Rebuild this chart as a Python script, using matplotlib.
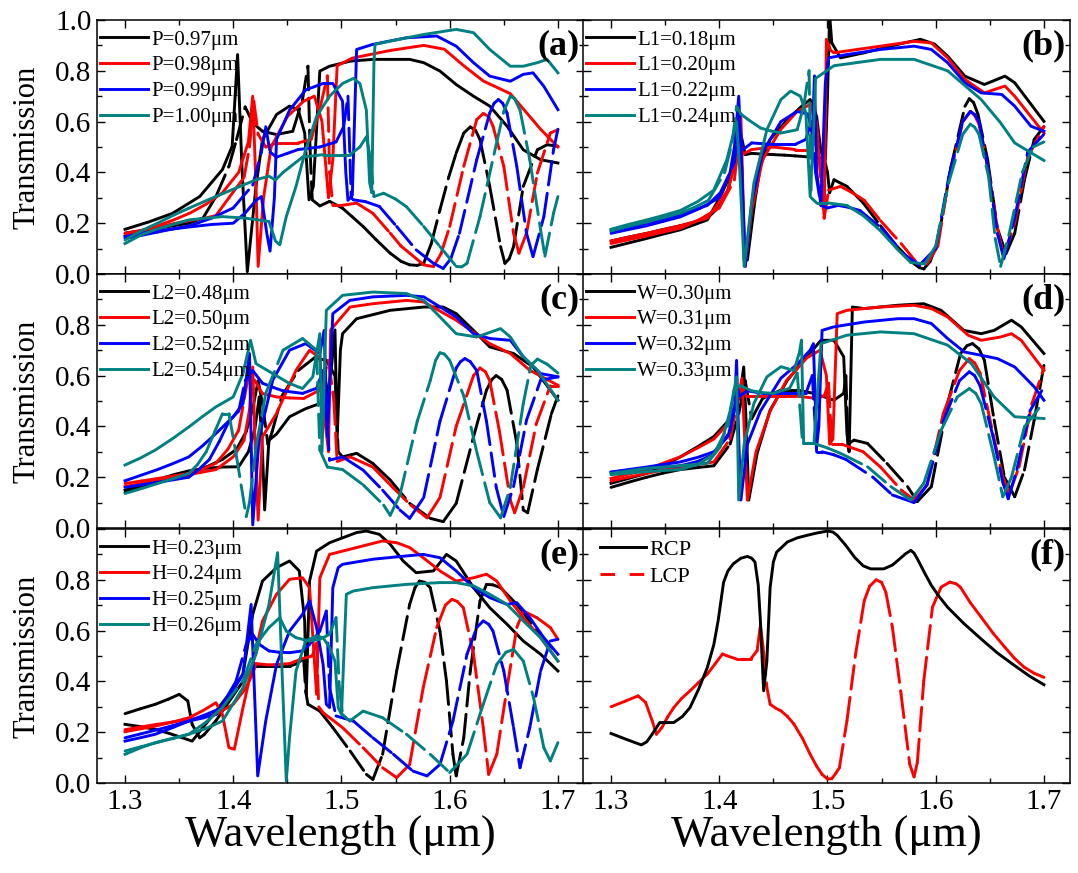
import numpy as np
import matplotlib
matplotlib.use('Agg')
import matplotlib.pyplot as plt
from matplotlib.collections import LineCollection
from matplotlib.lines import Line2D
from matplotlib.ticker import MultipleLocator, FuncFormatter

plt.rcParams['font.family'] = ['Liberation Serif', 'DejaVu Serif']
plt.rcParams['lines.scale_dashes'] = False

# (wavelength um, transmission)
# ---- panel (a): P ----
A_K_RCP = [(1.300,0.176),(1.322,0.205),(1.344,0.239),(1.369,0.305),(1.390,0.411),(1.399,0.503),(1.404,0.864),(1.408,0.424),(1.413,0.009),(1.421,0.345),(1.427,0.529),(1.440,0.628),(1.452,0.661),(1.460,0.647),(1.466,0.555),(1.470,0.292),(1.474,0.345),(1.480,0.799),(1.489,0.818),(1.508,0.838),(1.529,0.845),(1.563,0.845),(1.576,0.832),(1.591,0.799),(1.606,0.746),(1.622,0.700),(1.637,0.661),(1.653,0.582),(1.668,0.489),(1.684,0.450),(1.700,0.437)]
A_K_LCP = [(1.300,0.161),(1.315,0.170),(1.330,0.180),(1.345,0.190),(1.359,0.200),(1.372,0.220),(1.384,0.305),(1.396,0.424),(1.403,0.529),(1.411,0.658),(1.418,0.595),(1.427,0.562),(1.440,0.549),(1.455,0.562),(1.464,0.687),(1.469,0.818),(1.471,0.489),(1.473,0.292),(1.480,0.268),(1.489,0.286),(1.501,0.259),(1.510,0.225),(1.520,0.187),(1.532,0.135),(1.545,0.082),(1.555,0.050),(1.563,0.036),(1.570,0.034),(1.576,0.042),(1.583,0.120),(1.591,0.253),(1.599,0.380),(1.606,0.476),(1.613,0.555),(1.619,0.579),(1.624,0.565),(1.628,0.529),(1.637,0.345),(1.647,0.108),(1.651,0.042),(1.655,0.060),(1.659,0.108),(1.668,0.345),(1.681,0.489),(1.690,0.509),(1.700,0.503)]
A_R_RCP = [(1.300,0.150),(1.315,0.170),(1.330,0.190),(1.345,0.213),(1.360,0.240),(1.375,0.275),(1.390,0.320),(1.405,0.400),(1.414,0.520),(1.418,0.700),(1.421,0.350),(1.423,0.030),(1.428,0.300),(1.435,0.500),(1.450,0.620),(1.465,0.680),(1.475,0.700),(1.482,0.600),(1.488,0.300),(1.492,0.450),(1.496,0.820),(1.510,0.850),(1.545,0.880),(1.576,0.900),(1.595,0.885),(1.613,0.820),(1.631,0.760),(1.656,0.710),(1.668,0.650),(1.684,0.570),(1.700,0.500)]
A_R_LCP = [(1.300,0.160),(1.315,0.172),(1.330,0.185),(1.345,0.198),(1.359,0.210),(1.372,0.218),(1.384,0.230),(1.396,0.300),(1.410,0.380),(1.415,0.500),(1.419,0.680),(1.423,0.550),(1.430,0.500),(1.440,0.516),(1.450,0.516),(1.460,0.516),(1.472,0.530),(1.480,0.650),(1.487,0.780),(1.489,0.400),(1.492,0.270),(1.500,0.270),(1.514,0.279),(1.529,0.239),(1.545,0.161),(1.555,0.110),(1.563,0.082),(1.576,0.036),(1.585,0.029),(1.592,0.080),(1.600,0.187),(1.613,0.424),(1.625,0.608),(1.631,0.632),(1.636,0.620),(1.640,0.582),(1.650,0.424),(1.659,0.161),(1.664,0.082),(1.671,0.161),(1.681,0.397),(1.693,0.555),(1.700,0.568)]
A_B_RCP = [(1.300,0.147),(1.315,0.160),(1.330,0.170),(1.359,0.185),(1.380,0.195),(1.400,0.200),(1.411,0.240),(1.421,0.290),(1.426,0.305),(1.431,0.160),(1.434,0.090),(1.438,0.300),(1.440,0.530),(1.452,0.645),(1.467,0.725),(1.483,0.750),(1.492,0.750),(1.501,0.680),(1.504,0.400),(1.506,0.290),(1.510,0.310),(1.514,0.884),(1.529,0.904),(1.560,0.930),(1.588,0.937),(1.606,0.897),(1.622,0.832),(1.637,0.779),(1.656,0.759),(1.668,0.786),(1.677,0.792),(1.687,0.739),(1.700,0.647)]
A_B_LCP = [(1.300,0.140),(1.315,0.152),(1.330,0.165),(1.345,0.178),(1.360,0.190),(1.380,0.220),(1.400,0.260),(1.418,0.350),(1.426,0.480),(1.430,0.580),(1.434,0.480),(1.440,0.460),(1.450,0.475),(1.460,0.490),(1.480,0.500),(1.495,0.520),(1.502,0.580),(1.506,0.700),(1.509,0.300),(1.511,0.292),(1.522,0.285),(1.535,0.266),(1.551,0.187),(1.569,0.095),(1.585,0.042),(1.594,0.022),(1.601,0.060),(1.609,0.160),(1.625,0.450),(1.637,0.634),(1.641,0.672),(1.645,0.687),(1.649,0.672),(1.653,0.634),(1.662,0.424),(1.671,0.160),(1.677,0.068),(1.687,0.226),(1.696,0.490),(1.700,0.570)]
A_T_RCP = [(1.300,0.120),(1.314,0.152),(1.328,0.175),(1.359,0.213),(1.390,0.226),(1.411,0.220),(1.433,0.207),(1.439,0.130),(1.443,0.115),(1.449,0.226),(1.458,0.345),(1.467,0.490),(1.477,0.620),(1.489,0.700),(1.501,0.750),(1.511,0.770),(1.517,0.750),(1.523,0.645),(1.526,0.360),(1.528,0.320),(1.530,0.830),(1.531,0.904),(1.545,0.917),(1.576,0.943),(1.606,0.963),(1.622,0.950),(1.637,0.884),(1.656,0.818),(1.668,0.818),(1.681,0.832),(1.690,0.845),(1.700,0.792)]
A_T_LCP = [(1.300,0.134),(1.315,0.170),(1.330,0.200),(1.345,0.232),(1.359,0.259),(1.380,0.298),(1.399,0.332),(1.421,0.371),(1.433,0.385),(1.439,0.370),(1.446,0.400),(1.452,0.420),(1.464,0.460),(1.483,0.470),(1.495,0.470),(1.508,0.470),(1.517,0.500),(1.523,0.540),(1.527,0.450),(1.530,0.305),(1.539,0.318),(1.550,0.295),(1.560,0.265),(1.576,0.187),(1.591,0.108),(1.606,0.030),(1.611,0.028),(1.616,0.042),(1.628,0.226),(1.643,0.510),(1.650,0.640),(1.656,0.700),(1.660,0.690),(1.665,0.645),(1.674,0.450),(1.684,0.174),(1.688,0.070),(1.696,0.240),(1.700,0.305)]

# ---- panel (b): L1 ----
B_K_RCP = [(1.300,0.105),(1.316,0.122),(1.333,0.140),(1.348,0.157),(1.364,0.174),(1.389,0.213),(1.401,0.305),(1.414,0.424),(1.419,0.555),(1.421,0.400),(1.423,0.055),(1.426,0.055),(1.433,0.290),(1.438,0.424),(1.447,0.530),(1.463,0.608),(1.476,0.660),(1.484,0.687),(1.490,0.620),(1.494,0.480),(1.498,0.450),(1.500,0.700),(1.502,1.020),(1.504,0.910),(1.512,0.851),(1.534,0.871),(1.565,0.904),(1.586,0.924),(1.599,0.905),(1.611,0.858),(1.627,0.779),(1.645,0.746),(1.664,0.779),(1.673,0.753),(1.700,0.601)]
B_K_LCP = [(1.300,0.130),(1.316,0.145),(1.333,0.160),(1.348,0.175),(1.364,0.190),(1.376,0.203),(1.389,0.220),(1.400,0.265),(1.408,0.330),(1.416,0.470),(1.420,0.550),(1.424,0.470),(1.430,0.475),(1.440,0.472),(1.450,0.470),(1.460,0.468),(1.470,0.465),(1.485,0.460),(1.497,0.455),(1.500,0.400),(1.502,0.320),(1.506,0.371),(1.518,0.345),(1.533,0.280),(1.549,0.190),(1.564,0.110),(1.580,0.040),(1.585,0.025),(1.589,0.020),(1.595,0.050),(1.602,0.130),(1.614,0.420),(1.627,0.660),(1.631,0.690),(1.635,0.675),(1.639,0.630),(1.648,0.450),(1.657,0.180),(1.665,0.080),(1.673,0.160),(1.682,0.370),(1.691,0.530),(1.700,0.580)]
B_R_RCP = [(1.300,0.130),(1.316,0.145),(1.333,0.160),(1.348,0.175),(1.364,0.190),(1.389,0.220),(1.408,0.330),(1.416,0.460),(1.420,0.620),(1.422,0.300),(1.424,0.030),(1.430,0.250),(1.440,0.450),(1.457,0.570),(1.472,0.640),(1.485,0.670),(1.490,0.550),(1.494,0.400),(1.497,0.220),(1.499,0.924),(1.503,0.880),(1.506,0.871),(1.549,0.897),(1.580,0.916),(1.596,0.910),(1.611,0.851),(1.627,0.766),(1.645,0.713),(1.664,0.740),(1.673,0.700),(1.700,0.555)]
B_R_LCP = [(1.300,0.120),(1.316,0.135),(1.333,0.150),(1.348,0.165),(1.364,0.180),(1.382,0.215),(1.400,0.260),(1.414,0.370),(1.418,0.520),(1.421,0.470),(1.430,0.490),(1.440,0.495),(1.450,0.500),(1.460,0.495),(1.470,0.490),(1.485,0.490),(1.490,0.600),(1.494,0.350),(1.497,0.220),(1.501,0.330),(1.512,0.345),(1.523,0.320),(1.534,0.290),(1.549,0.210),(1.568,0.120),(1.583,0.042),(1.592,0.040),(1.602,0.110),(1.612,0.370),(1.625,0.600),(1.632,0.640),(1.636,0.625),(1.640,0.590),(1.649,0.400),(1.657,0.180),(1.663,0.070),(1.673,0.200),(1.685,0.460),(1.700,0.580)]
B_B_RCP = [(1.300,0.170),(1.316,0.185),(1.333,0.200),(1.348,0.217),(1.364,0.235),(1.389,0.270),(1.401,0.320),(1.410,0.400),(1.414,0.500),(1.418,0.700),(1.421,0.400),(1.424,0.030),(1.430,0.280),(1.440,0.480),(1.457,0.600),(1.472,0.640),(1.482,0.630),(1.486,0.550),(1.488,0.780),(1.490,0.400),(1.494,0.270),(1.498,0.750),(1.501,0.851),(1.518,0.864),(1.549,0.884),(1.580,0.897),(1.596,0.884),(1.611,0.832),(1.627,0.753),(1.642,0.713),(1.661,0.707),(1.673,0.661),(1.688,0.582),(1.700,0.562)]
B_B_LCP = [(1.300,0.160),(1.316,0.175),(1.333,0.190),(1.348,0.207),(1.364,0.225),(1.382,0.258),(1.400,0.300),(1.414,0.440),(1.418,0.600),(1.422,0.490),(1.430,0.516),(1.440,0.513),(1.450,0.510),(1.460,0.510),(1.470,0.510),(1.480,0.530),(1.485,0.600),(1.489,0.400),(1.494,0.270),(1.500,0.260),(1.510,0.270),(1.520,0.262),(1.530,0.250),(1.550,0.180),(1.570,0.080),(1.585,0.035),(1.600,0.100),(1.612,0.380),(1.625,0.600),(1.632,0.640),(1.636,0.628),(1.640,0.600),(1.649,0.400),(1.657,0.160),(1.663,0.060),(1.673,0.220),(1.685,0.480),(1.700,0.550)]
B_T_RCP = [(1.300,0.176),(1.316,0.195),(1.333,0.213),(1.348,0.230),(1.364,0.250),(1.380,0.285),(1.395,0.330),(1.407,0.450),(1.413,0.550),(1.416,0.600),(1.419,0.400),(1.423,0.030),(1.432,0.358),(1.444,0.568),(1.457,0.687),(1.466,0.720),(1.475,0.700),(1.480,0.634),(1.484,0.305),(1.487,0.550),(1.489,0.770),(1.506,0.820),(1.549,0.845),(1.580,0.845),(1.611,0.800),(1.642,0.687),(1.660,0.595),(1.673,0.516),(1.700,0.447)]
B_T_LCP = [(1.300,0.170),(1.316,0.188),(1.333,0.205),(1.348,0.222),(1.364,0.240),(1.377,0.262),(1.390,0.290),(1.405,0.400),(1.412,0.520),(1.416,0.660),(1.420,0.630),(1.426,0.610),(1.438,0.575),(1.448,0.563),(1.457,0.555),(1.472,0.568),(1.478,0.660),(1.483,0.800),(1.485,0.300),(1.490,0.280),(1.500,0.280),(1.518,0.270),(1.533,0.230),(1.549,0.170),(1.564,0.100),(1.577,0.045),(1.590,0.040),(1.600,0.110),(1.612,0.360),(1.625,0.550),(1.632,0.590),(1.636,0.578),(1.640,0.550),(1.649,0.380),(1.655,0.140),(1.660,0.030),(1.668,0.160),(1.680,0.400),(1.690,0.500),(1.700,0.520)]

# ---- panel (c): L2 ----
C_K_RCP = [(1.300,0.149),(1.315,0.170),(1.330,0.190),(1.345,0.210),(1.359,0.225),(1.375,0.235),(1.390,0.240),(1.405,0.241),(1.414,0.300),(1.420,0.390),(1.424,0.516),(1.427,0.300),(1.429,0.071),(1.433,0.346),(1.440,0.370),(1.452,0.438),(1.467,0.470),(1.480,0.490),(1.486,0.520),(1.490,0.600),(1.494,0.780),(1.496,0.350),(1.499,0.700),(1.501,0.765),(1.514,0.824),(1.545,0.857),(1.576,0.870),(1.594,0.870),(1.606,0.844),(1.622,0.778),(1.637,0.713),(1.659,0.687),(1.677,0.634),(1.700,0.503)]
C_K_LCP = [(1.300,0.140),(1.315,0.160),(1.330,0.180),(1.345,0.198),(1.359,0.215),(1.375,0.240),(1.390,0.270),(1.403,0.310),(1.412,0.380),(1.418,0.470),(1.423,0.580),(1.427,0.490),(1.432,0.330),(1.436,0.380),(1.445,0.520),(1.460,0.620),(1.475,0.670),(1.486,0.660),(1.494,0.600),(1.497,0.300),(1.501,0.280),(1.514,0.294),(1.529,0.254),(1.545,0.189),(1.563,0.097),(1.582,0.038),(1.594,0.025),(1.606,0.097),(1.622,0.359),(1.634,0.543),(1.639,0.585),(1.643,0.600),(1.648,0.585),(1.653,0.543),(1.662,0.333),(1.668,0.071),(1.672,0.060),(1.681,0.230),(1.694,0.450),(1.700,0.520)]
C_R_RCP = [(1.300,0.163),(1.315,0.175),(1.330,0.185),(1.345,0.198),(1.359,0.210),(1.384,0.230),(1.400,0.280),(1.410,0.345),(1.415,0.465),(1.418,0.634),(1.420,0.350),(1.423,0.031),(1.427,0.359),(1.440,0.451),(1.458,0.621),(1.4705,0.700),(1.480,0.670),(1.484,0.450),(1.488,0.300),(1.490,0.780),(1.495,0.805),(1.508,0.870),(1.529,0.883),(1.560,0.896),(1.576,0.890),(1.606,0.818),(1.637,0.726),(1.656,0.687),(1.674,0.621),(1.700,0.562)]
C_R_LCP = [(1.300,0.175),(1.315,0.185),(1.330,0.195),(1.345,0.205),(1.359,0.215),(1.372,0.232),(1.384,0.255),(1.395,0.310),(1.405,0.385),(1.414,0.600),(1.420,0.580),(1.427,0.529),(1.440,0.516),(1.452,0.512),(1.465,0.510),(1.480,0.543),(1.488,0.660),(1.493,0.500),(1.496,0.262),(1.508,0.280),(1.529,0.240),(1.545,0.170),(1.564,0.090),(1.579,0.040),(1.591,0.120),(1.606,0.400),(1.622,0.600),(1.628,0.630),(1.633,0.615),(1.637,0.580),(1.646,0.380),(1.656,0.110),(1.660,0.060),(1.668,0.160),(1.680,0.410),(1.693,0.560),(1.700,0.560)]
C_B_RCP = [(1.300,0.186),(1.315,0.208),(1.330,0.230),(1.345,0.255),(1.359,0.280),(1.372,0.325),(1.384,0.372),(1.400,0.438),(1.409,0.490),(1.415,0.687),(1.418,0.012),(1.424,0.359),(1.4365,0.582),(1.452,0.700),(1.467,0.726),(1.480,0.687),(1.484,0.778),(1.487,0.360),(1.492,0.844),(1.5076,0.896),(1.529,0.910),(1.560,0.916),(1.576,0.910),(1.606,0.831),(1.622,0.765),(1.637,0.746),(1.656,0.739),(1.668,0.674),(1.684,0.608),(1.700,0.595)]
C_B_LCP = [(1.300,0.160),(1.315,0.170),(1.330,0.180),(1.345,0.190),(1.359,0.200),(1.368,0.230),(1.378,0.270),(1.387,0.340),(1.396,0.420),(1.405,0.460),(1.411,0.580),(1.418,0.620),(1.427,0.570),(1.436,0.555),(1.446,0.540),(1.464,0.530),(1.477,0.550),(1.483,0.620),(1.487,0.400),(1.489,0.267),(1.501,0.280),(1.520,0.228),(1.538,0.149),(1.554,0.071),(1.563,0.038),(1.576,0.120),(1.591,0.420),(1.606,0.630),(1.610,0.655),(1.614,0.667),(1.619,0.655),(1.625,0.620),(1.634,0.420),(1.643,0.160),(1.650,0.045),(1.659,0.163),(1.671,0.425),(1.684,0.582),(1.700,0.595)]
C_T_RCP = [(1.300,0.248),(1.314,0.275),(1.328,0.307),(1.344,0.352),(1.359,0.398),(1.372,0.440),(1.384,0.477),(1.400,0.516),(1.409,0.608),(1.416,0.739),(1.421,0.647),(1.4365,0.608),(1.452,0.569),(1.464,0.549),(1.4735,0.595),(1.480,0.765),(1.482,0.300),(1.486,0.857),(1.501,0.916),(1.529,0.929),(1.560,0.923),(1.576,0.896),(1.591,0.831),(1.606,0.765),(1.625,0.752),(1.647,0.785),(1.656,0.752),(1.668,0.674),(1.681,0.621),(1.700,0.503)]
C_T_LCP = [(1.300,0.136),(1.315,0.155),(1.330,0.175),(1.345,0.195),(1.359,0.215),(1.367,0.250),(1.375,0.300),(1.383,0.380),(1.390,0.450),(1.396,0.450),(1.4025,0.294),(1.412,0.045),(1.415,0.100),(1.421,0.320),(1.430,0.530),(1.446,0.700),(1.464,0.746),(1.477,0.700),(1.480,0.307),(1.487,0.240),(1.501,0.230),(1.520,0.170),(1.539,0.090),(1.545,0.050),(1.554,0.130),(1.570,0.420),(1.582,0.580),(1.587,0.660),(1.591,0.690),(1.595,0.685),(1.600,0.660),(1.613,0.520),(1.625,0.300),(1.637,0.100),(1.647,0.040),(1.656,0.160),(1.668,0.490),(1.675,0.640),(1.681,0.665),(1.690,0.645),(1.700,0.610)]

# ---- panel (d): W ----
D_K_RCP = [(1.300,0.176),(1.316,0.195),(1.333,0.215),(1.348,0.245),(1.364,0.280),(1.380,0.320),(1.395,0.360),(1.410,0.430),(1.419,0.520),(1.4226,0.634),(1.425,0.400),(1.4273,0.110),(1.435,0.294),(1.447,0.464),(1.463,0.582),(1.481,0.674),(1.494,0.739),(1.506,0.739),(1.515,0.674),(1.518,0.372),(1.520,0.300),(1.523,0.870),(1.534,0.864),(1.565,0.877),(1.589,0.883),(1.605,0.857),(1.626,0.778),(1.642,0.765),(1.654,0.778),(1.670,0.818),(1.679,0.792),(1.700,0.687)]
D_K_LCP = [(1.300,0.160),(1.316,0.180),(1.333,0.200),(1.348,0.216),(1.364,0.230),(1.380,0.238),(1.395,0.245),(1.410,0.330),(1.418,0.450),(1.424,0.580),(1.430,0.430),(1.440,0.510),(1.457,0.543),(1.472,0.543),(1.4875,0.530),(1.506,0.503),(1.515,0.530),(1.517,0.600),(1.519,0.330),(1.5245,0.346),(1.537,0.333),(1.555,0.254),(1.574,0.163),(1.583,0.104),(1.596,0.163),(1.611,0.490),(1.623,0.687),(1.629,0.718),(1.634,0.726),(1.640,0.705),(1.645,0.660),(1.654,0.425),(1.6635,0.200),(1.673,0.123),(1.682,0.228),(1.691,0.425),(1.700,0.640)]
D_R_RCP = [(1.300,0.195),(1.316,0.212),(1.333,0.230),(1.348,0.255),(1.364,0.280),(1.380,0.315),(1.395,0.350),(1.410,0.420),(1.418,0.520),(1.421,0.590),(1.424,0.300),(1.426,0.110),(1.434,0.300),(1.447,0.460),(1.462,0.580),(1.481,0.670),(1.493,0.700),(1.499,0.600),(1.502,0.330),(1.505,0.350),(1.509,0.844),(1.518,0.857),(1.549,0.870),(1.580,0.877),(1.596,0.864),(1.611,0.831),(1.630,0.759),(1.642,0.739),(1.660,0.752),(1.670,0.765),(1.679,0.739),(1.700,0.621)]
D_R_LCP = [(1.300,0.185),(1.316,0.200),(1.333,0.215),(1.348,0.228),(1.364,0.240),(1.380,0.250),(1.395,0.260),(1.410,0.350),(1.417,0.500),(1.421,0.560),(1.425,0.520),(1.440,0.520),(1.455,0.520),(1.470,0.520),(1.490,0.510),(1.497,0.520),(1.501,0.570),(1.504,0.330),(1.513,0.330),(1.533,0.300),(1.549,0.240),(1.568,0.150),(1.580,0.110),(1.592,0.170),(1.607,0.450),(1.622,0.620),(1.631,0.667),(1.636,0.650),(1.641,0.610),(1.653,0.370),(1.662,0.200),(1.668,0.135),(1.677,0.240),(1.689,0.490),(1.700,0.630)]
D_B_RCP = [(1.300,0.220),(1.316,0.230),(1.333,0.240),(1.348,0.250),(1.364,0.260),(1.380,0.278),(1.395,0.300),(1.408,0.360),(1.414,0.460),(1.416,0.660),(1.418,0.350),(1.420,0.110),(1.426,0.330),(1.438,0.460),(1.457,0.590),(1.472,0.645),(1.484,0.700),(1.487,0.726),(1.490,0.320),(1.492,0.400),(1.495,0.778),(1.506,0.792),(1.534,0.811),(1.565,0.824),(1.580,0.824),(1.596,0.805),(1.611,0.746),(1.6265,0.693),(1.642,0.680),(1.657,0.667),(1.673,0.634),(1.691,0.556),(1.700,0.503)]
D_B_LCP = [(1.300,0.220),(1.316,0.228),(1.333,0.235),(1.348,0.240),(1.364,0.245),(1.380,0.262),(1.395,0.290),(1.410,0.380),(1.416,0.560),(1.419,0.520),(1.426,0.540),(1.440,0.530),(1.452,0.530),(1.465,0.530),(1.480,0.530),(1.486,0.600),(1.490,0.300),(1.495,0.300),(1.506,0.288),(1.517,0.270),(1.542,0.200),(1.560,0.130),(1.580,0.100),(1.592,0.170),(1.607,0.420),(1.622,0.580),(1.631,0.615),(1.636,0.600),(1.641,0.560),(1.653,0.360),(1.662,0.180),(1.667,0.115),(1.675,0.230),(1.687,0.460),(1.700,0.555)]
D_T_RCP = [(1.300,0.215),(1.316,0.225),(1.333,0.235),(1.348,0.240),(1.364,0.245),(1.389,0.255),(1.401,0.320),(1.410,0.460),(1.416,0.595),(1.418,0.110),(1.423,0.330),(1.432,0.490),(1.444,0.595),(1.457,0.635),(1.469,0.620),(1.474,0.690),(1.476,0.740),(1.478,0.333),(1.4875,0.333),(1.494,0.726),(1.518,0.759),(1.549,0.772),(1.580,0.765),(1.611,0.720),(1.633,0.647),(1.654,0.516),(1.673,0.438),(1.700,0.431)]
D_T_LCP = [(1.300,0.210),(1.316,0.216),(1.333,0.222),(1.348,0.226),(1.364,0.230),(1.380,0.250),(1.395,0.290),(1.408,0.400),(1.414,0.550),(1.420,0.560),(1.430,0.540),(1.440,0.533),(1.450,0.530),(1.465,0.550),(1.472,0.610),(1.475,0.450),(1.477,0.333),(1.4875,0.333),(1.500,0.315),(1.512,0.294),(1.537,0.241),(1.5585,0.163),(1.577,0.110),(1.589,0.176),(1.605,0.385),(1.620,0.516),(1.631,0.549),(1.637,0.530),(1.642,0.490),(1.654,0.280),(1.662,0.123),(1.670,0.200),(1.682,0.398),(1.700,0.497)]

# ---- panel (e): H ----
E_K_RCP = [(1.300,0.231),(1.314,0.222),(1.328,0.211),(1.341,0.195),(1.353,0.178),(1.362,0.165),(1.372,0.218),(1.384,0.283),(1.396,0.349),(1.409,0.428),(1.418,0.664),(1.427,0.795),(1.440,0.848),(1.452,0.874),(1.461,0.835),(1.466,0.638),(1.4675,0.349),(1.4705,0.795),(1.477,0.913),(1.489,0.946),(1.514,0.986),(1.523,0.992),(1.535,0.979),(1.545,0.940),(1.557,0.874),(1.569,0.828),(1.585,0.835),(1.597,0.900),(1.606,0.874),(1.622,0.769),(1.637,0.690),(1.653,0.625),(1.668,0.559),(1.684,0.507),(1.700,0.441)]
E_K_LCP = [(1.300,0.273),(1.314,0.292),(1.328,0.310),(1.340,0.330),(1.350,0.349),(1.358,0.323),(1.362,0.231),(1.369,0.178),(1.373,0.190),(1.384,0.245),(1.396,0.320),(1.409,0.400),(1.415,0.440),(1.418,0.460),(1.429,0.460),(1.440,0.460),(1.452,0.460),(1.459,0.470),(1.465,0.490),(1.467,0.360),(1.469,0.310),(1.480,0.283),(1.492,0.218),(1.508,0.126),(1.523,0.034),(1.529,0.014),(1.538,0.113),(1.551,0.441),(1.563,0.703),(1.568,0.770),(1.572,0.795),(1.577,0.790),(1.582,0.769),(1.591,0.598),(1.597,0.402),(1.603,0.113),(1.606,0.028),(1.613,0.178),(1.619,0.441),(1.628,0.717),(1.634,0.782),(1.640,0.780),(1.647,0.769),(1.662,0.703),(1.681,0.598),(1.700,0.507)]
E_R_RCP = [(1.300,0.202),(1.314,0.213),(1.328,0.224),(1.344,0.240),(1.359,0.257),(1.372,0.285),(1.384,0.316),(1.390,0.270),(1.396,0.139),(1.401,0.133),(1.409,0.297),(1.418,0.467),(1.427,0.638),(1.440,0.743),(1.452,0.802),(1.464,0.808),(1.4705,0.769),(1.4736,0.572),(1.477,0.349),(1.480,0.808),(1.489,0.900),(1.514,0.927),(1.538,0.953),(1.551,0.946),(1.563,0.927),(1.5755,0.887),(1.591,0.835),(1.606,0.795),(1.622,0.808),(1.634,0.822),(1.6435,0.795),(1.656,0.717),(1.668,0.651),(1.684,0.572),(1.700,0.480)]
E_R_LCP = [(1.300,0.210),(1.314,0.220),(1.328,0.230),(1.344,0.240),(1.359,0.250),(1.372,0.260),(1.384,0.270),(1.400,0.310),(1.411,0.370),(1.418,0.430),(1.421,0.470),(1.433,0.465),(1.442,0.467),(1.452,0.470),(1.464,0.490),(1.473,0.500),(1.477,0.550),(1.479,0.300),(1.483,0.277),(1.501,0.218),(1.520,0.139),(1.538,0.060),(1.551,0.021),(1.563,0.073),(1.5755,0.375),(1.588,0.612),(1.596,0.700),(1.602,0.723),(1.607,0.715),(1.6126,0.690),(1.622,0.507),(1.631,0.218),(1.636,0.034),(1.6435,0.113),(1.653,0.375),(1.662,0.612),(1.668,0.677),(1.6805,0.651),(1.693,0.612),(1.700,0.566)]
E_B_RCP = [(1.300,0.165),(1.314,0.178),(1.328,0.192),(1.344,0.218),(1.359,0.244),(1.375,0.270),(1.390,0.297),(1.409,0.428),(1.4165,0.703),(1.4226,0.028),(1.430,0.244),(1.440,0.467),(1.452,0.598),(1.464,0.664),(1.4705,0.717),(1.477,0.612),(1.483,0.467),(1.486,0.310),(1.489,0.297),(1.492,0.769),(1.497,0.848),(1.501,0.861),(1.529,0.881),(1.560,0.894),(1.5755,0.900),(1.591,0.887),(1.606,0.835),(1.622,0.769),(1.637,0.730),(1.653,0.703),(1.662,0.710),(1.674,0.651),(1.687,0.572),(1.700,0.507)]
E_B_LCP = [(1.300,0.178),(1.315,0.194),(1.330,0.210),(1.345,0.227),(1.359,0.244),(1.372,0.256),(1.384,0.270),(1.393,0.330),(1.4025,0.400),(1.412,0.546),(1.418,0.585),(1.424,0.546),(1.433,0.520),(1.442,0.515),(1.452,0.513),(1.464,0.520),(1.4705,0.546),(1.480,0.598),(1.486,0.677),(1.489,0.375),(1.495,0.264),(1.511,0.244),(1.529,0.178),(1.548,0.113),(1.566,0.047),(1.579,0.028),(1.591,0.073),(1.603,0.244),(1.616,0.507),(1.625,0.612),(1.631,0.638),(1.636,0.625),(1.640,0.598),(1.650,0.441),(1.659,0.218),(1.665,0.060),(1.674,0.218),(1.684,0.441),(1.693,0.559),(1.700,0.566)]
E_T_RCP = [(1.300,0.113),(1.314,0.138),(1.328,0.159),(1.344,0.176),(1.359,0.192),(1.375,0.215),(1.390,0.244),(1.409,0.375),(1.421,0.507),(1.433,0.703),(1.441,0.907),(1.445,0.450),(1.449,0.008),(1.452,0.178),(1.458,0.441),(1.467,0.559),(1.477,0.579),(1.483,0.572),(1.489,0.533),(1.494,0.480),(1.497,0.297),(1.500,0.270),(1.5045,0.743),(1.511,0.756),(1.529,0.769),(1.560,0.782),(1.591,0.789),(1.606,0.789),(1.622,0.776),(1.637,0.743),(1.653,0.703),(1.668,0.638),(1.684,0.572),(1.700,0.480)]
E_T_LCP = [(1.300,0.126),(1.315,0.143),(1.330,0.160),(1.345,0.176),(1.359,0.192),(1.375,0.240),(1.390,0.297),(1.409,0.402),(1.421,0.546),(1.433,0.612),(1.443,0.651),(1.449,0.598),(1.458,0.572),(1.4705,0.559),(1.480,0.566),(1.489,0.585),(1.495,0.651),(1.498,0.375),(1.501,0.270),(1.5076,0.244),(1.520,0.283),(1.538,0.257),(1.560,0.192),(1.582,0.113),(1.600,0.041),(1.616,0.113),(1.631,0.310),(1.6435,0.467),(1.652,0.515),(1.659,0.526),(1.668,0.480),(1.6775,0.336),(1.687,0.139),(1.693,0.087),(1.700,0.159)]

# ---- panel (f): optimised structure ----
F_RCP = [(1.300,0.195),(1.314,0.172),(1.328,0.150),(1.333,0.162),(1.338,0.192),(1.345,0.238),(1.358,0.238),(1.366,0.262),(1.373,0.297),(1.381,0.370),(1.389,0.455),(1.395,0.545),(1.399,0.640),(1.404,0.790),(1.408,0.835),(1.413,0.863),(1.420,0.885),(1.426,0.892),(1.430,0.885),(1.433,0.870),(1.436,0.780),(1.438,0.640),(1.441,0.363),(1.444,0.480),(1.447,0.770),(1.450,0.870),(1.453,0.909),(1.463,0.949),(1.472,0.965),(1.481,0.975),(1.490,0.984),(1.500,0.992),(1.505,0.988),(1.509,0.975),(1.517,0.935),(1.525,0.889),(1.533,0.855),(1.540,0.843),(1.552,0.843),(1.560,0.858),(1.565,0.876),(1.572,0.902),(1.577,0.916),(1.580,0.905),(1.583,0.883),(1.590,0.825),(1.596,0.778),(1.603,0.735),(1.611,0.692),(1.626,0.628),(1.642,0.567),(1.657,0.512),(1.673,0.462),(1.687,0.420),(1.700,0.387)]
F_LCP = [(1.300,0.300),(1.313,0.322),(1.325,0.343),(1.332,0.317),(1.338,0.245),(1.342,0.192),(1.347,0.218),(1.352,0.258),(1.358,0.297),(1.365,0.332),(1.373,0.363),(1.381,0.396),(1.389,0.429),(1.396,0.468),(1.403,0.508),(1.407,0.501),(1.416,0.488),(1.423,0.488),(1.429,0.488),(1.435,0.521),(1.438,0.620),(1.441,0.520),(1.444,0.376),(1.447,0.310),(1.452,0.295),(1.457,0.284),(1.463,0.262),(1.469,0.232),(1.477,0.175),(1.484,0.113),(1.490,0.066),(1.495,0.034),(1.500,0.016),(1.504,0.017),(1.508,0.040),(1.511,0.060),(1.518,0.245),(1.526,0.508),(1.534,0.718),(1.539,0.775),(1.545,0.800),(1.550,0.790),(1.554,0.750),(1.560,0.613),(1.568,0.350),(1.576,0.074),(1.580,0.024),(1.583,0.080),(1.589,0.403),(1.597,0.692),(1.605,0.771),(1.613,0.791),(1.619,0.784),(1.623,0.770),(1.632,0.710),(1.642,0.653),(1.653,0.590),(1.664,0.534),(1.673,0.490),(1.682,0.455),(1.691,0.432),(1.700,0.416)]

COLORS = ['#000000', '#ff0000', '#0000ff', '#008080']
PANELS = [
    ('(a)', ['P=0.97μm', 'P=0.98μm', 'P=0.99μm', 'P=1.00μm'],
     [A_K_RCP, A_R_RCP, A_B_RCP, A_T_RCP], [A_K_LCP, A_R_LCP, A_B_LCP, A_T_LCP]),
    ('(b)', ['L1=0.18μm', 'L1=0.20μm', 'L1=0.22μm', 'L1=0.24μm'],
     [B_K_RCP, B_R_RCP, B_B_RCP, B_T_RCP], [B_K_LCP, B_R_LCP, B_B_LCP, B_T_LCP]),
    ('(c)', ['L2=0.48μm', 'L2=0.50μm', 'L2=0.52μm', 'L2=0.54μm'],
     [C_K_RCP, C_R_RCP, C_B_RCP, C_T_RCP], [C_K_LCP, C_R_LCP, C_B_LCP, C_T_LCP]),
    ('(d)', ['W=0.30μm', 'W=0.31μm', 'W=0.32μm', 'W=0.33μm'],
     [D_K_RCP, D_R_RCP, D_B_RCP, D_T_RCP], [D_K_LCP, D_R_LCP, D_B_LCP, D_T_LCP]),
    ('(e)', ['H=0.23μm', 'H=0.24μm', 'H=0.25μm', 'H=0.26μm'],
     [E_K_RCP, E_R_RCP, E_B_RCP, E_T_RCP], [E_K_LCP, E_R_LCP, E_B_LCP, E_T_LCP]),
]

LW = 2.1
DASH = (0, (17, 6))


def draw_lcp(ax, pts, color):
    # dash pattern restarts on every segment, like the original software
    p = np.array(pts)
    segs = np.stack([p[:-1], p[1:]], axis=1)
    lc = LineCollection(segs, colors=color, linewidths=LW, linestyles=[DASH],
                        capstyle='round')
    ax.add_collection(lc)


def style_axes(ax, row, col):
    ax.set_xlim(1.2741, 1.7241)
    ax.set_ylim(0, 1.0)
    ax.xaxis.set_major_locator(MultipleLocator(0.1))
    ax.xaxis.set_minor_locator(MultipleLocator(0.05))
    ax.yaxis.set_major_locator(MultipleLocator(0.2))
    ax.yaxis.set_minor_locator(MultipleLocator(0.1))
    ax.tick_params(which='both', direction='in', top=True, right=True, width=1.0)
    ax.tick_params(which='major', length=6, pad=4)
    ax.tick_params(which='minor', length=3.5)
    ax.tick_params(labelsize=21)
    ax.yaxis.set_major_formatter(FuncFormatter(
        lambda v, p: '' if (v > 0.95 and row > 0) else f'{v:.1f}'))
    ax.xaxis.set_major_formatter(FuncFormatter(lambda v, p: f'{v:.1f}'))
    if col == 1:
        ax.tick_params(labelleft=False)
    else:
        ax.set_ylabel('Transmission', fontsize=22, labelpad=10)
    if row < 2:
        ax.tick_params(labelbottom=False)
    else:
        ax.set_xlabel('Wavelength (μm)', fontsize=32, labelpad=0)
    for s in ax.spines.values():
        s.set_linewidth(1.1)


fig = plt.figure(figsize=(10.78, 8.73), dpi=100)
col_left = [97 / 1078, 583 / 1078]
row_bottom = [1 - 274 / 873, 1 - 528 / 873, 1 - 783 / 873]
ax_w = 487 / 1078
ax_h = 254 / 873

for i in range(6):
    row, col = i // 2, i % 2
    ax = fig.add_axes([col_left[col], row_bottom[row], ax_w, ax_h])
    style_axes(ax, row, col)
    if i < 5:
        tag, labels, rcp, lcp = PANELS[i]
        handles = []
        for c, r, l, lab in zip(COLORS, rcp, lcp, labels):
            draw_lcp(ax, l, c)
            r = np.array(r)
            h, = ax.plot(r[:, 0], r[:, 1], color=c, lw=LW, label=lab,
                         solid_joinstyle='round')
            handles.append(h)
        ax.legend(handles=handles, loc='upper left', bbox_to_anchor=(-0.006, 0.985),
                  frameon=False, fontsize=15, handlelength=2.3, handletextpad=0.15,
                  labelspacing=0.3, borderaxespad=0, borderpad=0.3)
    else:
        tag = '(f)'
        draw_lcp(ax, F_LCP, '#ff0000')
        r = np.array(F_RCP)
        ax.plot(r[:, 0], r[:, 1], color='black', lw=LW, solid_joinstyle='round')
        handles = [Line2D([], [], color='black', lw=LW),
                   Line2D([], [], color='#ff0000', lw=LW, ls=(0, (10.5, 10.5)))]
        ax.legend(handles, ['RCP', 'LCP'], loc='upper left', bbox_to_anchor=(0.021, 0.985),
                  frameon=False, fontsize=16, handlelength=2.07, handletextpad=0.15,
                  labelspacing=0.3, borderaxespad=0, borderpad=0.3)
    ax.text(0.99, 0.898, tag, transform=ax.transAxes, ha='right', va='center',
            fontsize=26, fontweight='bold')

fig.savefig('out.png', dpi=100)
